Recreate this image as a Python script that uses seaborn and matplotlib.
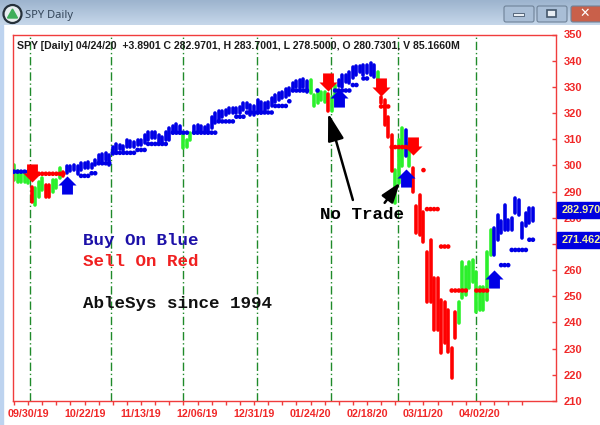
import pandas as pd
import matplotlib.pyplot as plt
from matplotlib.patches import Circle, FancyBboxPatch, Polygon, Rectangle
from matplotlib.path import Path
import numpy as np
import seaborn as sns

# bar highs and lows
highs = [300.2, 297.7, 297.0, 297.0, 296.4, 291.9, 291.3, 293.8, 295.1, 292.6, 292.6, 294.5, 294.5, 298.9, 297.3,
         299.9, 299.9, 300.2, 299.9, 300.8, 300.8, 301.2, 300.5, 302.1, 304.0, 304.4, 304.6, 304.0, 307.2, 308.2,
         307.8, 307.5, 309.7, 309.4, 309.1, 309.7, 309.7, 311.6, 312.7, 312.7, 312.7, 311.6, 311.0, 312.9, 314.2,
         315.1, 315.8, 315.1, 312.3, 309.7, 312.5, 315.1, 315.5, 315.1, 314.8, 315.5, 318.6, 319.9, 320.6, 320.6,
         321.2, 321.8, 321.8, 321.8, 322.2, 323.7, 324.0, 323.1, 322.5, 325.0, 324.4, 323.7, 324.4, 325.6, 326.9,
         327.6, 328.2, 329.1, 329.5, 331.6, 332.4, 332.6, 332.9, 332.3, 332.6, 326.9, 327.6, 328.2, 328.2, 327.3,
         326.3, 330.7, 332.6, 334.5, 334.5, 335.8, 337.7, 338.0, 338.0, 338.4, 338.4, 339.2, 338.4, 335.8, 326.3,
         325.0, 318.6, 311.7, 298.3, 309.7, 314.2, 313.6, 308.5, 298.9, 284.3, 288.8, 282.3, 267.0, 271.5, 256.9,
         256.9, 248.6, 248.0, 244.8, 230.1, 244.1, 248.0, 263.2, 261.3, 263.2, 263.9, 259.4, 253.7, 253.7, 267.0,
         275.3, 275.9, 281.1, 278.6, 284.9, 279.2, 279.8, 287.5, 286.8, 277.9, 281.7, 283.7, 283.7]
lows = [294.5, 293.8, 293.8, 293.5, 293.2, 286.2, 285.0, 288.1, 290.7, 288.1, 288.1, 290.0, 291.3, 295.1, 295.8,
        297.0, 297.7, 298.3, 296.8, 298.3, 298.9, 298.9, 298.9, 300.0, 300.8, 301.5, 302.1, 300.2, 304.4, 305.9,
        306.2, 305.9, 307.2, 306.9, 307.2, 307.6, 307.8, 308.5, 309.7, 310.4, 310.4, 309.1, 309.1, 309.7, 309.7,
        312.3, 312.9, 312.3, 306.6, 307.2, 309.7, 312.3, 312.9, 312.9, 312.9, 312.3, 314.2, 316.1, 317.4, 318.6,
        319.3, 319.9, 319.9, 319.9, 319.9, 321.2, 321.8, 319.3, 319.3, 319.9, 319.9, 320.6, 321.8, 322.5, 324.4,
        325.0, 325.6, 326.3, 326.9, 328.8, 329.8, 329.5, 330.1, 328.2, 327.6, 322.5, 323.7, 325.0, 324.4, 320.6,
        320.6, 326.3, 330.3, 330.1, 332.0, 331.4, 333.3, 334.5, 335.8, 334.5, 335.2, 334.5, 333.9, 332.6, 323.7,
        315.5, 311.0, 297.7, 285.6, 293.2, 299.6, 303.4, 299.6, 290.0, 274.0, 273.4, 270.9, 248.0, 248.0, 237.1,
        237.1, 228.2, 232.0, 228.9, 218.7, 234.0, 239.7, 249.2, 250.5, 253.0, 255.6, 244.1, 244.8, 244.8, 248.6,
        265.8, 265.8, 271.6, 274.0, 275.4, 275.4, 275.4, 281.7, 281.1, 272.2, 276.7, 277.9, 278.6]
signals = list("gggggrgggrrgggr"
               "bbbbbbbbbbbbbbbbbbbbbbbbbbbbbbbbb"
               "ggg"
               "bbbbbbbbbbbbbbbbbbbbbbbbbbbbbbbbb"
               "gggggrgg"
               "bbbbbbbbbbb"
               "grrrrgggbg"
               "rrrrrrrrrrrrr"
               "gggggggggg"
               "bbbbbbbbbbbb")

# trailing stop dots
stop_bars = [0, 1, 2, 3, 4, 5, 6, 7, 8, 9, 10, 11, 12, 13, 14,
             19, 20, 21, 22, 23, 24, 25, 26, 27, 28, 29, 30, 31, 32, 33, 34, 35, 36, 37,
             38, 39, 40, 41, 42, 43, 45, 46, 47, 48, 49, 51, 52, 53, 54, 55, 56, 57,
             58, 59, 60, 61, 62, 63, 64, 65, 66, 67, 68, 69, 70, 71, 72, 73,
             74, 75, 76, 77, 78, 79, 80, 81, 82, 83, 86, 91, 92, 93, 94, 95, 96, 97, 99, 100,
             104, 105, 106, 107, 108, 109, 110, 111, 112, 113, 116, 117, 118, 119, 120,
             121, 122, 123, 124, 125, 126, 127, 128, 131, 132, 133, 134,
             138, 139, 140, 141, 142, 143, 144, 145, 146, 147]
stop_prices = [297.6, 297.6, 297.6, 297.6, 297.6, 296.8, 296.8, 296.8, 296.8, 296.8, 296.8, 296.8, 296.8, 296.8, 296.8,
               296.0, 296.0, 296.0, 297.0, 297.0, 300.8, 300.8, 300.8, 300.8, 304.8, 304.8, 304.8, 304.8, 304.8, 304.8, 304.8, 305.9, 305.9, 305.9,
               308.2, 308.2, 308.2, 308.2, 308.2, 308.2, 312.5, 312.5, 312.5, 312.5, 312.5, 312.5, 312.5, 312.5, 312.5, 312.5, 312.5, 312.5,
               316.8, 316.8, 316.8, 316.8, 316.8, 318.6, 318.6, 318.6, 320.2, 320.2, 320.2, 320.2, 320.2, 320.2, 320.2, 320.2,
               322.7, 322.7, 322.7, 322.7, 324.5, 328.6, 328.6, 328.6, 328.6, 328.6, 328.6, 328.6, 328.6, 328.6, 328.6, 328.6, 330.7, 330.7, 333.2, 333.2,
               322.5, 322.5, 322.5, 307.0, 307.0, 307.0, 307.0, 307.0, 307.0, 307.0, 298.2, 283.3, 283.3, 283.3, 283.3,
               269.0, 269.0, 269.0, 252.2, 252.2, 252.2, 252.2, 252.2, 252.2, 252.2, 252.2, 252.2,
               261.9, 261.9, 261.9, 267.7, 267.7, 267.7, 267.7, 267.7, 271.6, 271.6]
red_stop_bars = [5, 6, 7, 8, 9, 10, 11, 12, 13, 14,
                 104, 105, 106, 107, 108, 109, 110, 111, 112, 113, 116, 117, 118, 119, 120,
                 121, 122, 123, 124, 125, 126, 127, 128, 131, 132, 133, 134]

# buy and sell arrows
buy_bars = [15, 92, 111, 136]
buy_prices = [292.6, 325.8, 295.2, 256.7]
sell_bars = [5, 89, 104, 113]
sell_prices = [297.1, 331.9, 329.9, 307.4]

month_lines = [4.67, 27.6, 47.9, 68.8, 89.9, 108.8, 130.9]
date_bars = [4, 20, 36, 52, 68, 84, 100, 116, 132]
date_labels = ['09/30/19', '10/22/19', '11/13/19', '12/06/19', '12/31/19',
               '01/24/20', '02/18/20', '03/11/20', '04/02/20']
price_ticks = [210, 220, 230, 240, 250, 260, 270, 280, 290, 300, 310, 320, 330, 340, 350]
marked_prices = [282.970, 271.462]

header = 'SPY [Daily] 04/24/20  +3.8901 C 282.9701, H 283.7001, L 278.5000, O 280.7301, V 85.1660M'

palette = {'b': '#0000e6', 'r': '#ff0000', 'g': '#2cf02c'}
chart_red = '#f03c3c'

n = len(highs)
bars = pd.DataFrame({
    'bar': list(range(n)) * 2,
    'price': highs + lows,
    'signal': signals * 2,
})
stops = pd.DataFrame({
    'bar': stop_bars,
    'price': stop_prices,
    'signal': ['r' if b in red_stop_bars else 'b' for b in stop_bars],
})
buys = pd.DataFrame({'bar': buy_bars, 'price': buy_prices})
sells = pd.DataFrame({'bar': sell_bars, 'price': sell_prices})

sns.set_theme(style='white')
plt.rcParams['font.family'] = ['Liberation Sans', 'DejaVu Sans']

fig = plt.figure(figsize=(6, 4.25), dpi=100, facecolor='white')

# window frame around the chart, in pixels
frame = fig.add_axes([0, 0, 1, 1], zorder=0)
frame.set_xlim(0, 600)
frame.set_ylim(425, 0)
frame.axis('off')
gradient = np.linspace(0, 1, 30).reshape(-1, 1)
colors = plt.matplotlib.colors.LinearSegmentedColormap.from_list('title', ['#9db4ce', '#c6d7ea'])
frame.imshow(gradient, extent=(0, 600, 25, 0), aspect='auto', cmap=colors, zorder=1)
frame.set_xlim(0, 600)
frame.set_ylim(425, 0)
frame.add_patch(Rectangle((0, 25), 3, 400, color='#bdd3ef', zorder=1))
frame.add_patch(Circle((12.5, 14), 9, fc='#e8eef0', ec='#25303a', lw=1.6, zorder=2))
frame.add_patch(Polygon([(7.5, 18), (12.5, 9), (17.5, 18)], color='#3fae5a', zorder=3))
frame.text(25, 15, 'SPY Daily', fontsize=8, family='Noto Sans', color='#34465a', va='center')
for left, width, fill in [(504, 30, '#a9bed6'), (537, 30, '#a9bed6'), (571, 32, '#c9604a')]:
    frame.add_patch(FancyBboxPatch((left, 6), width, 16, boxstyle='round,pad=0,rounding_size=2',
                                   fc=fill, ec='#6f8298', lw=0.8, zorder=2))
frame.add_patch(Rectangle((513, 13), 11, 3, fc='#e8eef4', ec='#44566a', lw=0.6, zorder=3))
frame.add_patch(Rectangle((547, 10), 9, 7, fc='#e8eef4', ec='#44566a', lw=1.2, zorder=3))
frame.text(585, 13.5, '✕', fontsize=9, color='white', weight='bold', family='DejaVu Sans',
           ha='center', va='center', zorder=3)

ax = fig.add_axes([12.5 / 600, 1 - 401 / 425, 543 / 600, 366.5 / 425], zorder=1)
ax.set_facecolor('white')

for x in month_lines:
    ax.axvline(x, color='#1f8a2a', lw=1, dashes=(6, 2, 1, 2), zorder=1)

sns.lineplot(data=bars, x='bar', y='price', hue='signal', units='bar', estimator=None, sort=False,
             palette=palette, linewidth=2.6, legend=False, solid_capstyle='round', ax=ax, zorder=2)
sns.scatterplot(data=stops, x='bar', y='price', hue='signal', palette=palette, s=11, marker='o',
                linewidth=0, legend=False, ax=ax, zorder=3)

up_arrow = Path([(-1, 0), (0, 1), (1, 0), (0.6, 0), (0.6, -1), (-0.6, -1), (-0.6, 0), (-1, 0)], closed=True)
down_arrow = Path([(-1, 0), (0, -1), (1, 0), (0.6, 0), (0.6, 1), (-0.6, 1), (-0.6, 0), (-1, 0)], closed=True)
sns.scatterplot(data=buys, x='bar', y='price', color='#0000e6', marker=up_arrow, s=170, linewidth=0, ax=ax, zorder=4)
sns.scatterplot(data=sells, x='bar', y='price', color='#ff0000', marker=down_arrow, s=170, linewidth=0, ax=ax, zorder=4)

ax.annotate('', xy=(89, 320), xytext=(96, 286.8), zorder=5,
            arrowprops=dict(arrowstyle='-|>,head_length=1.2,head_width=0.35', color='black', lw=1.8,
                            mutation_scale=14, shrinkA=0, shrinkB=0))
ax.annotate('', xy=(109.3, 293.4), xytext=(105, 285.7), zorder=5,
            arrowprops=dict(arrowstyle='-|>,head_length=1.0,head_width=0.35', color='black', lw=1.8,
                            mutation_scale=12, shrinkA=0, shrinkB=0))

mono = dict(family='Liberation Mono', weight='bold', fontsize=12.6, va='center')
ax.text(86.7, 281.1, 'No Trade', color='black', zorder=5, **mono)
ax.text(19.5, 271.2, 'Buy On Blue', color='#1c10a8', **mono)
ax.text(19.5, 263.2, 'Sell On Red', color='#f02020', **mono)
ax.text(19.5, 247.1, 'AbleSys since 1994', color='#111111', **mono)
ax.text(0.008, 0.969, header, transform=ax.transAxes, fontsize=7.55, weight='bold', color='#1c1c1c',
        va='center', zorder=5)

ax.set_xlim(-0.42, 153.4)
ax.set_ylim(210, 350)
ax.set_xlabel('')
ax.set_ylabel('')

ax.set_xticks(range(0, 145, 4))
ax.set_xticklabels([date_labels[date_bars.index(t)] if t in date_bars else '' for t in range(0, 145, 4)])
ax.yaxis.tick_right()
ax.set_yticks(price_ticks)
ax.tick_params(axis='x', direction='out', length=3, width=1, color=chart_red, labelcolor='#f02828',
               labelsize=7.7, pad=3, bottom=True)
ax.tick_params(axis='y', direction='in', length=3, width=1, color=chart_red, labelcolor='#f02828',
               labelsize=8, pad=6, right=True)
for label in ax.get_xticklabels() + ax.get_yticklabels():
    label.set_fontweight('bold')
for spine in ax.spines.values():
    spine.set_color(chart_red)
    spine.set_linewidth(1)

# last price boxes over the axis labels
trans = ax.get_yaxis_transform()
for price in marked_prices:
    ax.add_patch(Rectangle((1.003, price - 2.95), 0.085, 5.9, transform=trans, color='#0000e0',
                           clip_on=False, zorder=6))
    ax.text(1.012, price, f'{price:.3f}', transform=trans, color='#f4f0a0', weight='bold', fontsize=7.8,
            va='center', ha='left', clip_on=False, zorder=7)

fig.savefig('out.png', dpi=100)
